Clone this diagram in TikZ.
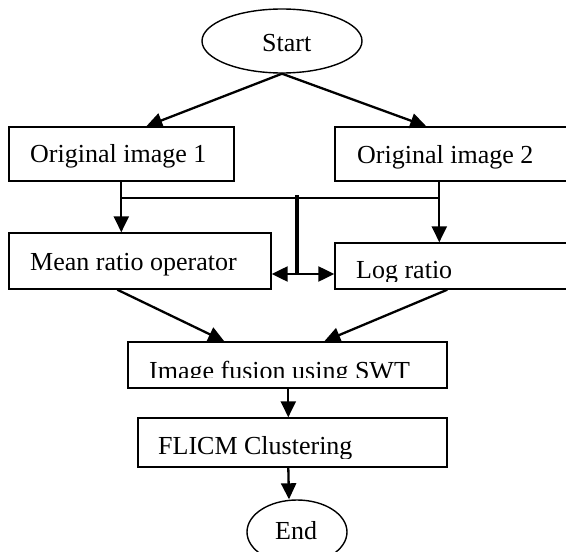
\documentclass[tikz,border=0pt]{standalone}
\usepackage{fontspec}
\setmainfont{Liberation Serif}
\usetikzlibrary{arrows.meta,calc,shapes.geometric}
\tikzset{
  box/.style={draw, rectangle, line width=1.4pt, inner sep=0pt},
  term/.style={draw, ellipse, line width=1.4pt, inner sep=0pt},
  lbl/.style={anchor=base west, inner sep=0pt, font=\fontsize{26}{30}\selectfont},
  conn/.style={line width=2.3pt},
  arr/.style={conn, -{Triangle[length=16pt,width=15pt]}},
  trunk/.style={line width=4.5pt},
}
\begin{document}
\begin{tikzpicture}[x=1pt,y=-1pt]
\clip (0,0) rectangle (566,552);

% terminals
\node[term, minimum width=160pt, minimum height=64pt] (start) at (282,41) {};
\node[term, minimum width=100pt, minimum height=64pt] (end) at (297,532) {};

% process boxes
\node[box, minimum width=225pt, minimum height=54pt] (img1) at (121.5,154) {};
\node[box, minimum width=237pt, minimum height=54pt] (img2) at (453.5,154) {};
\node[box, minimum width=262pt, minimum height=56pt] (mean) at (140,261) {};
\node[box, minimum width=237pt, minimum height=46pt] (logr) at (453.5,266) {};
\node[box, minimum width=319pt, minimum height=46pt] (fuse) at (287.5,365) {};
\node[box, minimum width=309pt, minimum height=49pt] (flicm) at (292.5,442.5) {};

% labels
\node[lbl] (tstart) at (262,51) {Start};
\node[lbl] (tend) at (275,539) {End};
\node[lbl] (timg1) at (30,162) {Original image 1};
\node[lbl] (timg2) at (357,163) {Original image 2};
\node[lbl] (tmean) at (30,270) {Mean ratio operator};
\begin{scope}
  \clip (logr.north west) rectangle ([yshift=8pt]logr.south east);
  \node[lbl] (tlogr) at (356,278) {Log ratio};
\end{scope}
\begin{scope}
  \clip (fuse.north west) rectangle ([yshift=11pt]fuse.south east);
  \node[lbl] (tfuse) at (149,379) {Image fusion using SWT};
\end{scope}
\begin{scope}
  \clip (flicm.north west) rectangle ([yshift=9pt]flicm.south east);
  \node[lbl] (tflicm) at (158,454) {FLICM Clustering};
\end{scope}

% connectors
\draw[arr] (start.south) -- ([xshift=138pt]img1.north west);
\draw[arr] (start.south) -- ([xshift=92pt]img2.north west);
\draw[arr] ([xshift=113pt]img1.south west) -- ([xshift=113pt]mean.north west);
\draw[arr] ([xshift=105pt]img2.south west) -- ([xshift=105pt]logr.north west);

\coordinate (busL) at ($(img1.south west)+(113,16)$);
\coordinate (busR) at ($(img2.south west)+(105,16)$);
\draw[conn] (busL) -- (busR);

\coordinate (hub) at (297,195);
\coordinate (fork) at (297,274);
\draw[trunk] (hub) -- ([yshift=-1pt]fork);
\draw[arr] (fork) -- (fork -| mean.east);
\draw[arr] (fork) -- (fork -| logr.west);

\draw[arr] ([xshift=109pt]mean.south west) -- ([xshift=97pt]fuse.north west);
\draw[arr] ([xshift=113pt]logr.south west) -- ([xshift=197pt]fuse.north west);
\draw[arr] ([xshift=161pt]fuse.south west) -- ([xshift=151pt]flicm.north west);
\draw[arr] ([xshift=151pt]flicm.south west) -- ([xshift=-8pt]end.north);
\end{tikzpicture}
\end{document}
